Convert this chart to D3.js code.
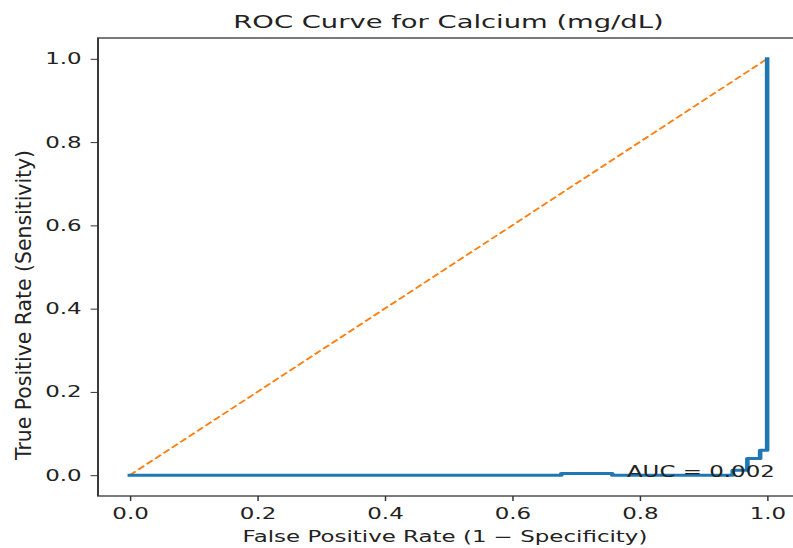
<!DOCTYPE html>
<head>
  <meta charset="utf-8">
  <title>roc.html</title>
</head>
<style>
body { margin: 0; background: #fff; }
svg { display: block; }
text { font-family: "DejaVu Sans", sans-serif; fill: #222; }
.tick line { stroke: #333; }
</style>
<svg width="793" height="548"></svg>
<script src="https://cdn.jsdelivr.net/npm/d3@7"></script>
<script>
// data
var fpr = [0, 0.677, 0.677, 0.757, 0.757, 0.946, 0.946, 0.969, 0.969, 0.989, 0.989, 1.0, 1.0];
var tpr = [0, 0, 0.004, 0.004, 0, 0, 0.012, 0.012, 0.04, 0.04, 0.06, 0.06, 1.0];
var chance = [0, 1];
var tickValues = [0, 0.2, 0.4, 0.6, 0.8, 1.0];
var aucLabel = "AUC = 0.002";

// the picture is stretched sideways, so draw in a squeezed frame and scale x
var SX = 1.48;

var svg = d3.select("svg"),
    width = +svg.attr("width"),
    height = +svg.attr("height"),
    margin = { top: 38, bottom: 52, left: 98, right: -6 };

svg.append("rect").attr("width", width).attr("height", height).attr("fill", "#fff");

var g = svg.append("g").attr("transform", "scale(" + SX + ",1)");

var x = d3.scaleLinear()
    .domain([-0.05, 1.05])
    .range([margin.left / SX, (width - margin.right) / SX]);

var y = d3.scaleLinear()
    .domain([-0.05, 1.05])
    .range([height - margin.bottom, margin.top]);

// axes
var xAxis = g.append("g")
    .attr("transform", "translate(0," + y(-0.05) + ")")
    .call(d3.axisBottom(x).tickValues(tickValues).tickFormat(d3.format(".1f"))
      .tickSize(5).tickPadding(7));

var yAxis = g.append("g")
    .attr("transform", "translate(" + x(-0.05) + ",0)")
    .call(d3.axisLeft(y).tickValues(tickValues).tickFormat(d3.format(".1f"))
      .tickSize(5).tickPadding(6));

[xAxis, yAxis].forEach(function(a) {
  a.select(".domain").remove();
  a.selectAll("text").style("font-size", "15.5px").style("font-family", "DejaVu Sans").attr("fill", "#222");
  a.selectAll(".tick line").attr("stroke", "#333").attr("stroke-width", 1);
});

// chance diagonal
g.append("path")
    .datum(chance)
    .attr("fill", "none")
    .attr("stroke", "#ff7f0e")
    .attr("stroke-width", 1.6)
    .attr("stroke-dasharray", "5.5,2.4")
    .attr("d", d3.line().x(function(d) { return x(d); }).y(function(d) { return y(d); }));

// roc curve
g.append("path")
    .datum(d3.range(fpr.length))
    .attr("fill", "none")
    .attr("stroke", "#1f77b4")
    .attr("stroke-width", 3.1)
    .attr("stroke-linejoin", "round")
    .attr("stroke-linecap", "square")
    .attr("d", d3.line().x(function(i) { return x(fpr[i]); }).y(function(i) { return y(tpr[i]); }));

// frame
g.append("rect")
    .attr("x", x(-0.05))
    .attr("y", y(1.05))
    .attr("width", x(1.05) - x(-0.05))
    .attr("height", y(-0.05) - y(1.05))
    .attr("fill", "none")
    .attr("stroke", "#333")
    .attr("stroke-width", 1.3);

g.append("text")
    .attr("x", x(0.78))
    .attr("y", y(-0.005))
    .style("font-size", "15.5px")
    .text(aucLabel);

g.append("text")
    .attr("x", (x(-0.05) + x(1.05)) / 2)
    .attr("y", 28)
    .attr("text-anchor", "middle")
    .style("font-size", "18.5px")
    .text("ROC Curve for Calcium (mg/dL)");

g.append("text")
    .attr("x", 445 / SX)
    .attr("y", 542.5)
    .attr("text-anchor", "middle")
    .style("font-size", "15.5px")
    .text("False Positive Rate (1 \u2212 Specificity)");

// y label is not stretched like the rest
svg.append("text")
    .attr("transform", "translate(30.5,305) scale(1.08,1) rotate(-90)")
    .attr("text-anchor", "middle")
    .style("font-size", "20.4px")
    .text("True Positive Rate (Sensitivity)");
</script>
